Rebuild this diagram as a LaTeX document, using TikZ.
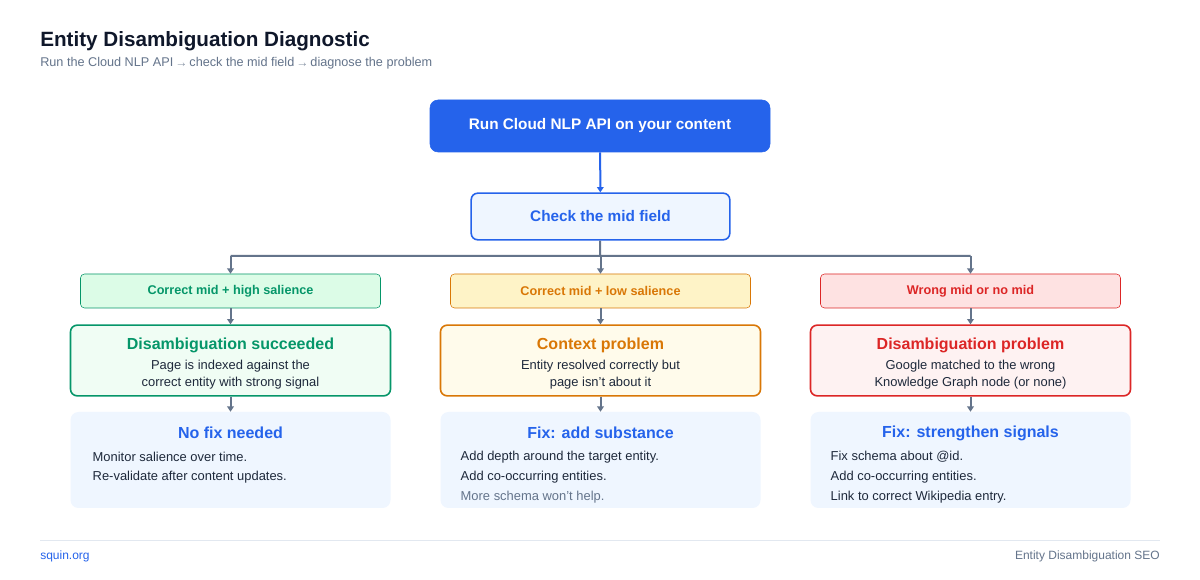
\documentclass[tikz,border=0pt]{standalone}
\usepackage{fontspec}
\setmainfont{Liberation Sans}
\usetikzlibrary{arrows.meta}
\definecolor{blu}{HTML}{2563EB}
\definecolor{blul}{HTML}{EFF6FF}
\definecolor{grn}{HTML}{059669}
\definecolor{grnl}{HTML}{DCFCE7}
\definecolor{grnb}{HTML}{F0FDF4}
\definecolor{org}{HTML}{D97706}
\definecolor{orgl}{HTML}{FEF3C7}
\definecolor{orgb}{HTML}{FFFBEB}
\definecolor{rdd}{HTML}{DC2626}
\definecolor{rddl}{HTML}{FEE2E2}
\definecolor{rddb}{HTML}{FEF2F2}
\definecolor{ink}{HTML}{0F172A}
\definecolor{txt}{HTML}{1E293B}
\definecolor{mut}{HTML}{64748B}
\definecolor{lin}{HTML}{E2E8F0}
\begin{document}
\begin{tikzpicture}[x=0.75pt,y=-0.75pt,
  arr/.style={draw=mut,line width=1.5pt,-{Triangle[length=4pt,width=5pt]}},
  lbl/.style={draw=#1,fill=#1l,rounded corners=3pt,minimum width=225pt,minimum height=25.5pt,text=#1,font=\bfseries\fontsize{9.5}{11}\selectfont,inner sep=0pt},
  big/.style={draw=#1,fill=#1b,line width=1.2pt,rounded corners=5pt,minimum width=240pt,minimum height=53pt,inner sep=0pt},
  fix/.style={fill=blul,rounded corners=6pt,minimum width=240pt,minimum height=72pt,inner sep=0pt},
  ttl/.style={font=\bfseries\fontsize{12}{14}\selectfont,text=#1},
  ln/.style={font=\fontsize{9.7}{12}\selectfont,text=txt},
  fl/.style={font=\fontsize{9.7}{12}\selectfont,text=txt,anchor=west}]
\useasboundingbox (0,0) rectangle (1200,580);
\fill[white] (0,0) rectangle (1200,580);
\node[anchor=west,text=ink,font=\bfseries\fontsize{15.5}{18}\selectfont,inner sep=0] (t) at (40,41) {Entity Disambiguation Diagnostic};
\node[anchor=west,text=mut,font=\fontsize{9.5}{11}\selectfont,inner sep=0] (st) at (40,63) {Run the Cloud NLP API $\scriptscriptstyle\rightarrow$ check the mid field $\scriptscriptstyle\rightarrow$ diagnose the problem};

\node[fill=blu,draw=blu,rounded corners=6pt,minimum width=255pt,minimum height=39pt,text=white,font=\bfseries\fontsize{11.5}{14}\selectfont] (run) at (600,126) {Run Cloud NLP API on your content};
\node[fill=blul,draw=blu,line width=1.2pt,rounded corners=5pt,minimum width=194pt,minimum height=35pt,text=blu,font=\bfseries\fontsize{11.5}{14}\selectfont] (chk) at (600.5,216.5) {Check the mid field};
\draw[draw=blu,line width=1.5pt,-{Triangle[length=4pt,width=5pt]}] (run) -- (chk);
\coordinate (j) at (600,256);

\foreach \n/\x/\c/\l/\t/\a/\b in {
 g/230.5/grn/Correct mid + high salience/Disambiguation succeeded/Page is indexed against the/correct entity with strong signal,
 o/600.5/org/Correct mid + low salience/Context problem/Entity resolved correctly but/page isn't about it,
 r/970.5/rdd/Wrong mid or no mid/Disambiguation problem/Google matched to the wrong/Knowledge Graph node (or none)}{
  \node[lbl=\c] (\n l) at (\x,291) {\l};
  \node[big=\c] (\n b) at (\x,360.5) {};
  \node[ttl=\c] (\n t) at (\x,345) {\t};
  \node[ln] (\n 1) at (\x,366) {\a};
  \node[ln] (\n 2) at (\x,383.5) {\b};
  \node[fix] (\n f) at (\x,460) {};
  \draw[arr] (\n l) -- (\n b);
  \draw[arr] (\n b) -- (\n f);
  \coordinate (\n top) at (\x,256);
  \draw[arr] (\n top) -- (\n l);
}
\draw[draw=mut,line width=1.5pt] (chk) -- (j) (gtop) -- (rtop);

\node[ttl=blu] (gft) at (230.5,433) {No fix needed};
\node[fl] (g3) at (88,457) {Monitor salience over time.};
\node[fl] (g4) at (88,477) {Re-validate after content updates.};
\node[ttl=blu] (oft) at (600.5,433) {Fix: add substance};
\node[fl] (o3) at (456,457) {Add depth around the target entity.};
\node[fl] (o4) at (456,477) {Add co-occurring entities.};
\node[fl,text=mut] (o5) at (456,497) {More schema won't help.};
\node[ttl=blu] (rft) at (970.5,433) {Fix: strengthen signals};
\node[fl] (r3) at (826,457) {Fix schema about @id.};
\node[fl] (r4) at (826,477) {Add co-occurring entities.};
\node[fl] (r5) at (826,497) {Link to correct Wikipedia entry.};

\draw[lin,line width=0.75pt] (40,540.5) -- (1160,540.5);
\node[anchor=west,inner sep=0,text=blu,font=\fontsize{9}{11}\selectfont] (f1) at (40,556) {squin.org};
\node[anchor=east,inner sep=0,text=mut,font=\fontsize{9}{11}\selectfont] (f2) at (1160,556) {Entity Disambiguation SEO};
\end{tikzpicture}
\end{document}
